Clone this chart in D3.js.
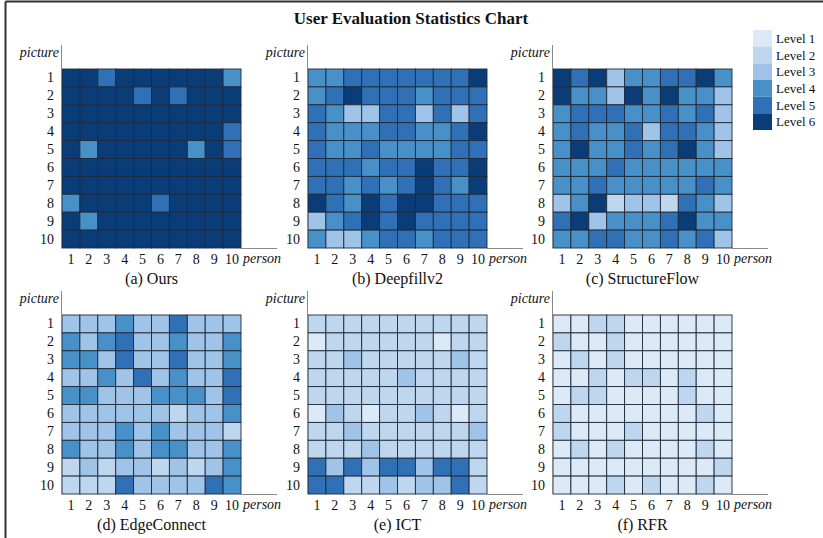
<!DOCTYPE html>
<html>
<head>
<meta charset="utf-8">
<script src="https://cdn.jsdelivr.net/npm/d3@7"></script>
<style>
  html, body { margin: 0; padding: 0; background: #fff; }
  svg { display: block; }
  text { font-family: "Liberation Serif", "Times New Roman", serif; fill: #111; }
</style>
</head>
<body>
<svg id="chart" width="823" height="538"></svg>
<script>
// ---- data ----
const title = "User Evaluation Statistics Chart";
const persons = ["1","2","3","4","5","6","7","8","9","10"];
const pictures = ["1","2","3","4","5","6","7","8","9","10"];
const levelNames = ["Level 1","Level 2","Level 3","Level 4","Level 5","Level 6"];
const levelColors = ["#dce9f6","#bed6ee","#a0c3e8","#4790c8","#2f70b6","#0a3c78"];
const methodNames = ["(a) Ours","(b) Deepfillv2","(c) StructureFlow","(d) EdgeConnect","(e) ICT","(f) RFR"];

// rows = pictures 1..10, columns = persons 1..10
const ours = [
  [6,6,5,6,6,6,6,6,6,4],
  [6,6,6,6,5,6,5,6,6,6],
  [6,6,6,6,6,6,6,6,6,6],
  [6,6,6,6,6,6,6,6,6,5],
  [6,4,6,6,6,6,6,4,6,5],
  [6,6,6,6,6,6,6,6,6,6],
  [6,6,6,6,6,6,6,6,6,6],
  [4,6,6,6,6,5,6,6,6,6],
  [6,4,6,6,6,6,6,6,6,6],
  [6,6,6,6,6,6,6,6,6,6]
];
const deepfill = [
  [4,4,5,5,5,5,5,5,5,6],
  [4,5,6,5,5,5,4,5,5,5],
  [5,4,3,3,5,5,3,5,3,5],
  [5,4,4,4,5,5,4,4,5,6],
  [5,4,4,5,4,4,4,4,5,5],
  [5,5,5,4,5,5,6,5,5,6],
  [5,5,4,5,4,5,6,5,4,6],
  [6,5,4,6,5,6,6,5,5,5],
  [3,4,5,6,5,6,5,5,5,5],
  [4,3,3,4,5,5,4,5,5,5]
];
const structureFlow = [
  [6,5,6,3,4,4,5,5,6,4],
  [6,4,4,3,6,4,6,4,4,3],
  [4,5,5,5,4,4,5,4,5,3],
  [4,5,4,4,5,3,5,5,4,3],
  [4,6,4,4,5,4,5,6,4,3],
  [4,4,4,5,4,4,4,4,4,4],
  [4,4,5,4,4,4,4,4,5,4],
  [3,4,6,2,3,3,2,5,4,3],
  [5,6,3,4,4,4,5,6,4,4],
  [4,4,5,5,4,4,5,4,5,3]
];
const edgeConnect = [
  [3,3,3,4,3,3,5,3,3,3],
  [4,3,4,5,3,3,4,3,3,4],
  [4,4,3,5,3,3,5,3,3,4],
  [3,3,4,3,5,3,4,3,3,5],
  [4,4,3,3,3,4,4,4,3,5],
  [3,3,3,3,3,3,2,3,3,4],
  [3,3,3,4,3,4,3,3,3,2],
  [4,3,3,4,3,4,4,3,3,4],
  [2,3,2,3,3,2,3,2,3,4],
  [2,2,2,5,3,3,3,3,5,4]
];
const ict = [
  [2,2,2,2,2,2,2,2,2,2],
  [1,2,2,2,2,2,2,1,2,2],
  [2,2,3,2,2,2,2,2,3,2],
  [2,2,2,2,2,3,2,2,2,2],
  [2,2,2,2,2,2,2,2,2,2],
  [1,3,2,1,2,2,3,2,1,2],
  [2,2,3,2,2,2,2,2,2,3],
  [2,2,2,3,2,2,2,2,2,2],
  [5,3,5,3,5,5,3,5,5,2],
  [5,5,2,2,3,2,3,3,5,2]
];
const rfr = [
  [1,1,2,2,1,1,1,1,1,1],
  [2,1,1,2,1,1,1,1,1,1],
  [1,2,1,2,1,1,1,1,1,1],
  [1,1,2,1,2,2,1,2,1,1],
  [1,2,2,1,1,1,1,2,1,1],
  [2,1,1,1,1,1,1,1,2,1],
  [2,1,1,1,2,1,1,1,1,1],
  [1,2,1,2,1,1,1,1,2,1],
  [1,1,1,1,1,1,1,1,1,2],
  [1,1,1,2,1,2,1,1,2,1]
];
const matrices = [ours, deepfill, structureFlow, edgeConnect, ict, rfr];

// ---- drawing ----
const svg = d3.select("#chart");
const color = d3.scaleOrdinal().domain([1,2,3,4,5,6]).range(levelColors);

// frame (top and left edges visible)
svg.append("line").attr("x1",5.5).attr("y1",1.5).attr("x2",823).attr("y2",1.5)
  .attr("stroke","#333").attr("stroke-width",2);
svg.append("line").attr("x1",5.5).attr("y1",1.5).attr("x2",5.5).attr("y2",538)
  .attr("stroke","#333").attr("stroke-width",2);

svg.append("text").attr("x",411).attr("y",24).attr("text-anchor","middle")
  .style("font-size","17px").style("font-weight","bold").text(title);

const panelLeft = [62, 308, 553];
const panelTop = [69, 315];
const size = 179;

matrices.forEach((m, idx) => {
  const col = idx % 3, row = Math.floor(idx / 3);
  const x0 = panelLeft[col], y0 = panelTop[row];
  const g = svg.append("g").attr("transform", `translate(${x0},${y0})`);
  const x = d3.scaleBand().domain(persons).range([0, size]);
  const y = d3.scaleBand().domain(pictures).range([0, size]);

  const cells = [];
  m.forEach((r, i) => r.forEach((v, j) => cells.push({p: pictures[i], q: persons[j], v})));
  g.selectAll("rect.cell").data(cells).join("rect").attr("class","cell")
    .attr("x", d => x(d.q)).attr("y", d => y(d.p))
    .attr("width", x.bandwidth()).attr("height", y.bandwidth())
    .attr("fill", d => color(d.v))
    .attr("stroke", "#1e2a3a").attr("stroke-width", 0.9);

  // axes
  const xAxis = d3.axisBottom(x).tickSize(0).tickPadding(6);
  const gx = g.append("g").attr("transform", `translate(0,${size})`).call(xAxis);
  gx.select(".domain").remove();
  gx.selectAll("text").style("font-size","14px").style("font-family","Liberation Serif, serif").attr("fill","#111");

  const yAxis = d3.axisLeft(y).tickSize(0).tickPadding(8);
  const gy = g.append("g").call(yAxis);
  gy.select(".domain").remove();
  gy.selectAll("text").style("font-size","14px").style("font-family","Liberation Serif, serif").attr("fill","#111");

  // axis lines
  g.append("line").attr("x1",-0.5).attr("x2",-0.5).attr("y1",-24).attr("y2",size)
    .attr("stroke","#888").attr("stroke-width",1);
  g.append("line").attr("x1",size).attr("x2",size+36).attr("y1",size+0.5).attr("y2",size+0.5)
    .attr("stroke","#888").attr("stroke-width",1);

  g.append("text").attr("x",-3).attr("y",-12).attr("text-anchor","end")
    .style("font-size","14px").style("font-style","italic").text("picture");
  g.append("text").attr("x",size+2).attr("y",size+15)
    .style("font-size","14px").style("font-style","italic").text("person");

  g.append("text").attr("x",size/2).attr("y",size+36).attr("text-anchor","middle")
    .style("font-size","16px").text(methodNames[idx]);
});

// legend
const lg = svg.append("g").attr("transform","translate(753,30)");
const ly = d3.scaleBand().domain(levelNames).range([0,100]);
lg.selectAll("rect").data(levelNames).join("rect")
  .attr("x",0).attr("y",d => ly(d)).attr("width",19).attr("height",ly.bandwidth())
  .attr("fill",(d,i) => levelColors[i]);
lg.selectAll("text").data(levelNames).join("text")
  .attr("x",23).attr("y",d => ly(d) + ly.bandwidth()/2 + 4.5)
  .style("font-size","13px").text(d => d);
</script>
</body>
</html>
